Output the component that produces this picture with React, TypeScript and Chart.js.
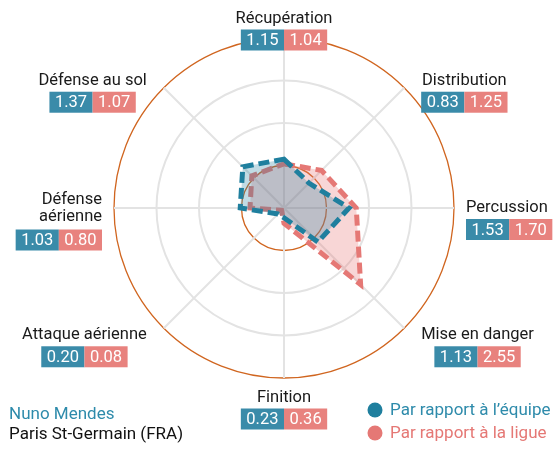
import React, { useEffect, useRef } from "react";
import { Chart, registerables } from "chart.js";

Chart.register(...registerables);

const categories = [
  "Récupération",
  "Distribution",
  "Percussion",
  "Mise en danger",
  "Finition",
  "Attaque aérienne",
  "Défense\naérienne",
  "Défense au sol",
];
const teamValues = [1.15, 0.83, 1.53, 1.13, 0.23, 0.2, 1.03, 1.37];
const leagueValues = [1.04, 1.25, 1.7, 2.55, 0.36, 0.08, 0.8, 1.07];
const seriesNames = ["Par rapport à l’équipe", "Par rapport à la ligue"];
const playerName = "Nuno Mendes";
const clubName = "Paris St-Germain (FRA)";

const BLUE = "#1f7f9e";
const RED = "#e57875";
const BLUE_BOX = "#3a8ba9";
const RED_BOX = "#e8827e";
const ORANGE = "#d0651f";
const GRID = "#e3e3e3";
const FONT = "Roboto, 'Noto Sans', sans-serif";

const labelPlugin = {
  id: "labelPlugin",
  afterDraw(chart: any) {
    const ctx = chart.ctx;
    const scale = chart.scales.r;
    const R = scale.drawingArea;
    const cx = scale.xCenter;
    const cy = scale.yCenter;
    ctx.save();
    const nameFont = `16.5px ${FONT}`;
    const numFont = `16.5px ${FONT}`;
    const lineH = 17;
    const boxH = 21;
    const pad = 5.5;
    categories.forEach((cat, i) => {
      const p = scale.getPointPosition(i, R);
      const ux = (p.x - cx) / R;
      const uy = (p.y - cy) / R;
      const lines = cat.split("\n");
      const vertical = Math.abs(ux) < 0.01;
      const horizontal = Math.abs(uy) < 0.01;
      const dy = vertical ? R + 19.5 : R + 10;
      const dx = horizontal ? R + 12 : R + 24;
      const nameCenterY = cy + uy * dy;
      ctx.font = nameFont;
      const lineWidths = lines.map((l) => ctx.measureText(l).width);
      ctx.font = numFont;
      const tA = teamValues[i].toFixed(2);
      const tB = leagueValues[i].toFixed(2);
      const wA = ctx.measureText(tA).width + pad * 2;
      const wB = ctx.measureText(tB).width + pad * 2;
      const boxW = wA + wB;
      const blockW = Math.max(boxW, ...lineWidths);
      let blockLeft: number;
      if (vertical) blockLeft = cx - blockW / 2;
      else if (ux > 0) blockLeft = cx + ux * dx;
      else blockLeft = cx + ux * dx - blockW;
      const firstY = nameCenterY - ((lines.length - 1) * lineH) / 2;
      const placeX = (w: number) => {
        if (horizontal) {
          return ux > 0 ? blockLeft : blockLeft + blockW - w;
        }
        return blockLeft + (blockW - w) / 2;
      };
      ctx.font = nameFont;
      ctx.fillStyle = "#1a1a1a";
      ctx.textBaseline = "middle";
      ctx.textAlign = "left";
      lines.forEach((l, k) => {
        ctx.fillText(l, placeX(lineWidths[k]), firstY + k * lineH);
      });
      const lastY = firstY + (lines.length - 1) * lineH;
      const boxTop = lastY + (lines.length > 1 ? 13 : 11);
      const bx = placeX(boxW);
      ctx.fillStyle = BLUE_BOX;
      ctx.fillRect(bx, boxTop, wA, boxH);
      ctx.fillStyle = RED_BOX;
      ctx.fillRect(bx + wA, boxTop, wB, boxH);
      ctx.font = numFont;
      ctx.fillStyle = "#ffffff";
      ctx.textAlign = "center";
      ctx.fillText(tA, bx + wA / 2, boxTop + boxH / 2 + 1);
      ctx.fillText(tB, bx + wA + wB / 2, boxTop + boxH / 2 + 1);
    });

    // bottom-left caption
    ctx.textAlign = "left";
    ctx.textBaseline = "middle";
    ctx.font = `17px ${FONT}`;
    ctx.fillStyle = "#2e8bab";
    ctx.fillText(playerName, 9, 415);
    ctx.fillStyle = "#111111";
    ctx.fillText(clubName, 9, 435);

    // legend
    const legendColors = [BLUE, RED];
    const legendText = ["#2e8bab", RED];
    seriesNames.forEach((s, k) => {
      const y = 410 + k * 23;
      ctx.beginPath();
      ctx.arc(375, y, 7.5, 0, Math.PI * 2);
      ctx.fillStyle = legendColors[k];
      ctx.fill();
      ctx.fillStyle = legendText[k];
      ctx.fillText(s, 390, y + 1);
    });
    ctx.restore();
  },
};

export default function App() {
  const ref = useRef<HTMLCanvasElement | null>(null);
  useEffect(() => {
    if (!ref.current) return;
    const chart = new Chart(ref.current, {
      type: "radar",
      data: {
        labels: categories,
        datasets: [
          {
            label: seriesNames[0],
            data: teamValues,
            borderColor: BLUE,
            backgroundColor: "rgba(31,127,158,0.28)",
            borderWidth: 5,
            borderDash: [11, 5],
            borderJoinStyle: "miter",
            pointRadius: 0,
            fill: true,
          },
          {
            label: seriesNames[1],
            data: leagueValues,
            borderColor: RED,
            backgroundColor: "rgba(232,120,120,0.3)",
            borderWidth: 5,
            borderDash: [11, 5],
            borderJoinStyle: "miter",
            pointRadius: 0,
            fill: true,
          },
        ],
      },
      options: {
        animation: false,
        responsive: true,
        maintainAspectRatio: false,
        layout: { padding: { left: 114, right: 101, top: 38, bottom: 77 } },
        plugins: { legend: { display: false }, tooltip: { enabled: false } },
        scales: {
          r: {
            min: 0,
            max: 4,
            ticks: { display: false, stepSize: 1 },
            pointLabels: { display: false },
            grid: {
              circular: true,
              color: (c: any) =>
                c.tick && (c.tick.value === 1 || c.tick.value === 4) ? ORANGE : GRID,
              lineWidth: (c: any) =>
                c.tick && (c.tick.value === 1 || c.tick.value === 4) ? 1.3 : 2,
            },
            angleLines: { color: GRID, lineWidth: 2 },
          },
        },
      },
      plugins: [labelPlugin],
    });
    return () => chart.destroy();
  }, []);
  return (
    <div style={{ position: "absolute", left: 0, top: 0, width: 555, height: 455 }}>
      <canvas ref={ref} />
    </div>
  );
}
